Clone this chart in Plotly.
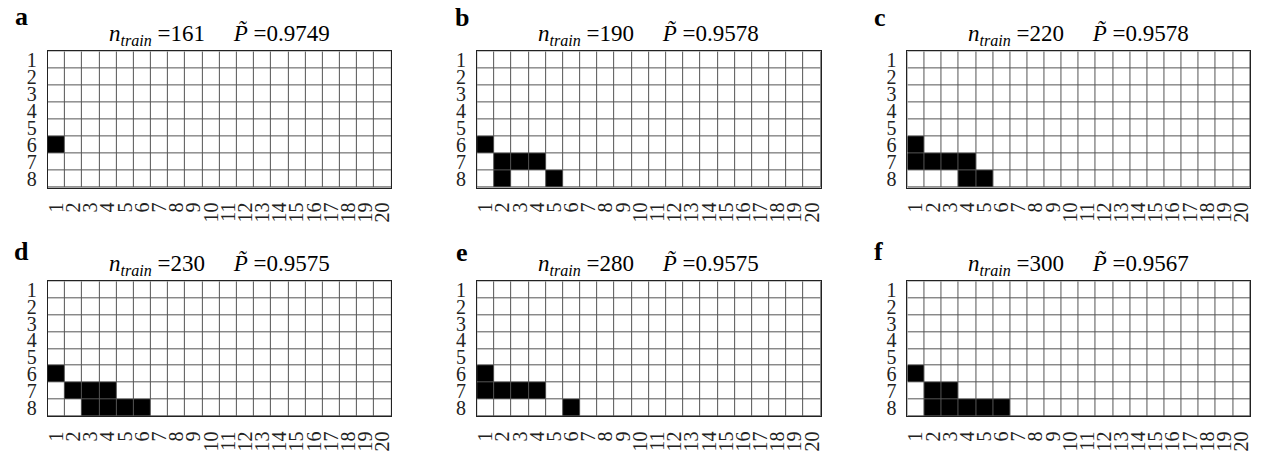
import plotly.graph_objects as go

# ---------------- data ----------------
panel_labels = ["a", "b", "c", "d", "e", "f"]
n_train = [161, 190, 220, 230, 280, 300]
p_tilde = [0.9749, 0.9578, 0.9578, 0.9575, 0.9575, 0.9567]
n_rows = 8
n_cols = 20
row_labels = [str(i) for i in range(1, n_rows + 1)]
col_labels = [str(i) for i in range(1, n_cols + 1)]

# selected (row, column) cells for each panel
cells_a = [(6, 1)]
cells_b = [(6, 1), (7, 2), (7, 3), (7, 4), (8, 2), (8, 5)]
cells_c = [(6, 1), (7, 1), (7, 2), (7, 3), (7, 4), (8, 4), (8, 5)]
cells_d = [(6, 1), (7, 2), (7, 3), (7, 4), (8, 3), (8, 4), (8, 5), (8, 6)]
cells_e = [(6, 1), (7, 1), (7, 2), (7, 3), (7, 4), (8, 6)]
cells_f = [(6, 1), (7, 2), (7, 3), (8, 2), (8, 3), (8, 4), (8, 5), (8, 6)]
all_cells = [cells_a, cells_b, cells_c, cells_d, cells_e, cells_f]

# ---------------- layout geometry (pixels) ----------------
W, H = 1262, 453
col_x = [(45, 390), (476, 821), (908, 1252)]
row_y = [(49, 187), (282, 419)]
label_pos = [(19, 14), (461, 15), (880, 15), (19, 252), (461, 253), (879, 252)]

SERIF = "Liberation Serif"

fig = go.Figure()
annotations = []
layout_axes = {}

for k in range(6):
    r, c = divmod(k, 3)
    x0, x1 = col_x[c]
    y0, y1 = row_y[r]
    z = [[0] * n_cols for _ in range(n_rows)]
    for (ri, ci) in all_cells[k]:
        z[ri - 1][ci - 1] = 1
    idx = "" if k == 0 else str(k + 1)
    fig.add_trace(go.Heatmap(
        z=z,
        x=list(range(1, n_cols + 1)),
        y=list(range(1, n_rows + 1)),
        colorscale=[[0, "white"], [1, "black"]],
        zmin=0, zmax=1, showscale=False,
        xgap=1, ygap=1,
        xaxis="x" + idx, yaxis="y" + idx,
        hoverinfo="skip",
    ))
    layout_axes["xaxis" + idx] = dict(
        domain=[x0 / W, x1 / W],
        anchor="y" + idx,
        range=[0.5, n_cols + 0.5],
        tickmode="array",
        tickvals=list(range(1, n_cols + 1)),
        ticktext=col_labels,
        tickangle=-90,
        ticks="",
        ticklabelstandoff=6,
        showgrid=False, zeroline=False,
        showline=True, mirror=True, linecolor="#222", linewidth=1,
        tickfont=dict(family=SERIF, size=20, color="#222"),
        fixedrange=True,
    )
    layout_axes["yaxis" + idx] = dict(
        domain=[1 - y1 / H, 1 - y0 / H],
        anchor="x" + idx,
        range=[n_rows + 0.5, 0.5],
        tickmode="array",
        tickvals=list(range(1, n_rows + 1)),
        ticktext=row_labels,
        ticks="",
        ticklabelstandoff=6,
        showgrid=False, zeroline=False,
        showline=True, mirror=True, linecolor="#222", linewidth=1,
        tickfont=dict(family=SERIF, size=20, color="#222"),
        fixedrange=True,
    )
    # title above the grid
    annotations.append(dict(
        x=(x0 + x1) / 2 / W, y=1 - (y0 - 17) / H,
        xref="paper", yref="paper", xanchor="center", yanchor="middle",
        showarrow=False,
        text=("<i>n</i><sub><i>train</i></sub> =%d&nbsp;&nbsp;&nbsp;&nbsp;&nbsp;<i>P\u0303</i> =%.4f"
              % (n_train[k], p_tilde[k])),
        font=dict(family=SERIF, size=23, color="black"),
    ))
    # panel label
    lx, ly = label_pos[k]
    annotations.append(dict(
        x=lx / W, y=1 - ly / H,
        xref="paper", yref="paper", xanchor="center", yanchor="middle",
        showarrow=False,
        text="<b>%s</b>" % panel_labels[k],
        font=dict(family=SERIF, size=26, color="black"),
    ))

fig.update_layout(
    width=W, height=H,
    margin=dict(l=0, r=0, t=0, b=0),
    paper_bgcolor="white",
    plot_bgcolor="#555555",
    showlegend=False,
    annotations=annotations,
    **layout_axes,
)

fig.write_html("out.html")
